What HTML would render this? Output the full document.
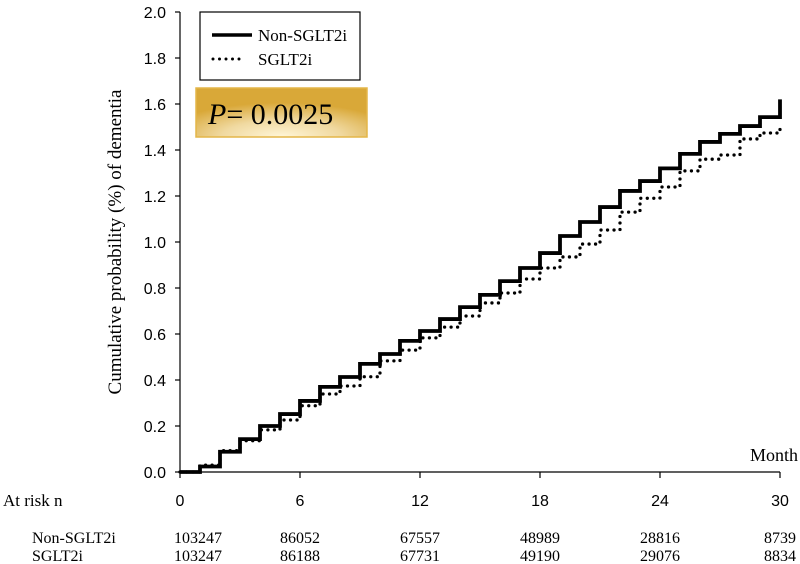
<!DOCTYPE html>
<html><head><meta charset="utf-8"><style>
body{margin:0;background:#fff;}
svg{display:block;}
.s{font-family:"Liberation Sans",sans-serif;}
.r{font-family:"Liberation Serif",serif;}
</style></head><body>
<svg width="800" height="564" viewBox="0 0 800 564">
<defs>
<radialGradient id="gold" cx="50%" cy="100%" r="70%">
<stop offset="0" stop-color="#fff6d8"/><stop offset="0.5" stop-color="#f0d9a0"/><stop offset="1" stop-color="#d9a838"/>
</radialGradient>
</defs>
<g id="axes"></g>
<g id="series"></g>
<g>
<rect x="200" y="12" width="160" height="68" fill="#fff" stroke="#000" stroke-width="1.2"/>
<line x1="212" y1="35" x2="252" y2="35" stroke="#000" stroke-width="3.5"/>
<text x="258" y="41" class="r" font-size="17">Non-SGLT2i</text>
<line x1="213" y1="59" x2="245" y2="59" stroke="#000" stroke-width="3" stroke-dasharray="0,6.5" stroke-linecap="round"/>
<text x="258" y="65" class="r" font-size="17">SGLT2i</text>
</g>
<g>
<rect x="196" y="88" width="171" height="49" fill="url(#gold)" stroke="#e4b648" stroke-width="1.5"/>
<text x="208" y="124" class="r" font-size="30"><tspan font-style="italic">P</tspan>= 0.0025</text>
</g>
<text transform="translate(121,242) rotate(-90)" text-anchor="middle" class="r" font-size="19">Cumulative probability (%) of dementia</text>
<text x="798" y="461" text-anchor="end" class="r" font-size="18">Month</text>
<text x="3" y="506" class="r" font-size="17">At risk n</text>
<text x="32" y="543" class="r" font-size="16">Non-SGLT2i</text>
<text x="32" y="561" class="r" font-size="16">SGLT2i</text>
<g id="risk"></g>
</svg>
<script>
const yTicks=[0,0.2,0.4,0.6,0.8,1.0,1.2,1.4,1.6,1.8,2.0];
const xTicks=[0,6,12,18,24,30];
const nonSglt2i=[0,0.024,0.088,0.143,0.2,0.252,0.309,0.37,0.413,0.47,0.513,0.57,0.613,0.665,0.717,0.77,0.83,0.887,0.952,1.026,1.087,1.152,1.222,1.265,1.32,1.383,1.435,1.47,1.504,1.543,1.62];
const sglt2i=[0,0.03,0.093,0.136,0.183,0.226,0.288,0.339,0.374,0.414,0.483,0.53,0.583,0.63,0.678,0.735,0.778,0.839,0.887,0.935,0.991,1.052,1.13,1.19,1.239,1.309,1.36,1.378,1.448,1.474,1.504];
const riskNon=["103247","86052","67557","48989","28816","8739"];
const riskSg=["103247","86188","67731","49190","29076","8834"];
const NS="http://www.w3.org/2000/svg";
const X=m=>180+m*20, Y=v=>472-v*230;
function mk(t,a,p){const e=document.createElementNS(NS,t);for(const k in a)e.setAttribute(k,a[k]);p.appendChild(e);return e;}
const ax=document.getElementById('axes');
let e=mk('line',{x1:180,y1:Y(2),x2:180,y2:472,stroke:'#000','stroke-width':1.2},ax);


e=mk('line',{x1:180,y1:472,x2:780,y2:472,stroke:'#000','stroke-width':1.2},ax);


yTicks.forEach(v=>{
 mk('line',{x1:175,y1:Y(v),x2:180,y2:Y(v),stroke:'#000','stroke-width':1.2},ax);
 const t=mk('text',{x:166,y:Y(v)+6,'text-anchor':'end','font-size':16,class:'s'},ax);
 t.textContent=v.toFixed(1);
 
 
});
xTicks.forEach(m=>{
 mk('line',{x1:X(m),y1:472,x2:X(m),y2:478,stroke:'#000','stroke-width':1.2},ax);
 const t=mk('text',{x:X(m),y:506,'text-anchor':'middle','font-size':16,class:'s'},ax);
 t.textContent=m;
 
 
});
function stepPath(arr){
 let d='M'+X(0)+','+Y(arr[0]);
 for(let i=1;i<arr.length;i++){d+=' H'+X(i)+' V'+Y(arr[i]);}
 return d;
}
const sg=document.getElementById('series');
e=mk('path',{d:stepPath(sglt2i),fill:'none',stroke:'#000','stroke-width':3.3,'stroke-dasharray':'0,6.5','stroke-linecap':'round'},sg);


e=mk('path',{d:stepPath(nonSglt2i),fill:'none',stroke:'#000','stroke-width':3.8},sg);


const rk=document.getElementById('risk');
xTicks.forEach((m,i)=>{
 let t=mk('text',{x:X(m)+(i==0?18:0),y:543,'text-anchor':'middle','font-size':16,class:'r'},rk);
 t.textContent=riskNon[i];
 
 
 t=mk('text',{x:X(m)+(i==0?18:0),y:561,'text-anchor':'middle','font-size':16,class:'r'},rk);
 t.textContent=riskSg[i];
 
 
});
</script>
</body></html>
